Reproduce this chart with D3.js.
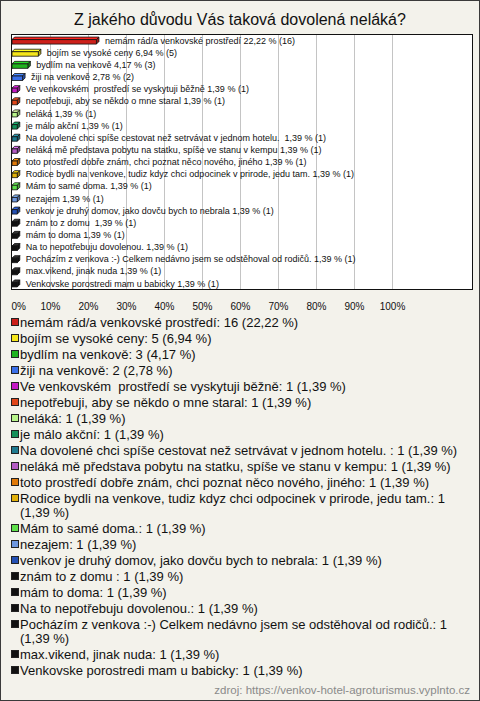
<!DOCTYPE html>
<html><head><meta charset="utf-8">
<script src="https://cdn.jsdelivr.net/npm/d3@7"></script>
<style>body{margin:0;padding:0;background:#fff;} text{font-family:"Liberation Sans",Arial,sans-serif;}</style>
</head><body>
<svg id="chart" width="480" height="701"></svg>
<script>
const title = "Z jakého důvodu Vás taková dovolená neláká?";
const categories = [
  "nemám rád/a venkovské prostředí",
  "bojím se vysoké ceny",
  "bydlím na venkově",
  "žiji na venkově",
  "Ve venkovském  prostředí se vyskytuji běžně",
  "nepotřebuji, aby se někdo o mne staral",
  "neláká",
  "je málo akční",
  "Na dovolené chci spíše cestovat než setrvávat v jednom hotelu. ",
  "neláká mě představa pobytu na statku, spíše ve stanu v kempu",
  "toto prostředí dobře znám, chci poznat něco nového, jiného",
  "Rodice bydli na venkove, tudiz kdyz chci odpocinek v prirode, jedu tam.",
  "Mám to samé doma.",
  "nezajem",
  "venkov je druhý domov, jako dovču bych to nebrala",
  "znám to z domu ",
  "mám to doma",
  "Na to nepotřebuju dovolenou.",
  "Pocházím z venkova :-) Celkem nedávno jsem se odstěhoval od rodičů.",
  "max.vikend, jinak nuda",
  "Venkovske porostredi mam u babicky"
];
const counts = [16,5,3,2,1,1,1,1,1,1,1,1,1,1,1,1,1,1,1,1,1];
const percents = [22.22,6.94,4.17,2.78,1.39,1.39,1.39,1.39,1.39,1.39,1.39,1.39,1.39,1.39,1.39,1.39,1.39,1.39,1.39,1.39,1.39];
const colors = ["#cc1f1a","#f5e61a","#1fb31f","#3a6fe8","#c41ac4","#e0461a","#b8f58a","#15905a",
  "#1f7a8f","#b45cc4","#e07a0a","#e0b00a","#5ee04a","#6e98e0","#2450b4",
  "#111111","#111111","#111111","#111111","#111111","#111111"];
const xTicks = [0,10,20,30,40,50,60,70,80,90,100];
const source = "zdroj: https://venkov-hotel-agroturismus.vyplnto.cz";

const fmt = v => v.toFixed(2).replace(".", ",");
const svg = d3.select("#chart");
const W = 480, H = 701;

svg.append("rect").attr("x",0.5).attr("y",0.5).attr("width",W-1).attr("height",H-1)
  .attr("fill","#f3f2eb").attr("stroke","#3a3a3a");

svg.append("text").attr("x",240).attr("y",25).attr("text-anchor","middle")
  .attr("font-size",16).attr("fill","#111").text(title);

const plot = {l:11.5, r:472.5, t:34.5, b:289.5};
svg.append("rect").attr("x",plot.l).attr("y",plot.t).attr("width",plot.r-plot.l).attr("height",plot.b-plot.t)
  .attr("fill","#fff");

const x = d3.scaleLinear().domain([0,100]).range([12, 392]);
const y = d3.scaleBand().domain(d3.range(categories.length)).range([plot.t, plot.b]);

// gridlines
svg.append("g").selectAll("line").data(xTicks.slice(1)).join("line")
  .attr("x1", d => Math.round(x(d))+0.5).attr("x2", d => Math.round(x(d))+0.5)
  .attr("y1", plot.t).attr("y2", plot.b).attr("stroke","#c4c4c4").attr("stroke-width",1);

svg.append("rect").attr("x",plot.l).attr("y",plot.t).attr("width",plot.r-plot.l).attr("height",plot.b-plot.t)
  .attr("fill","none").attr("stroke","#111");

// axis labels
const xAxisG = svg.append("g").attr("transform", `translate(0,${plot.b})`)
  .call(d3.axisBottom(x).tickValues(xTicks).tickFormat(d => d + "%").tickSize(0).tickPadding(13));
xAxisG.select(".domain").remove();
xAxisG.selectAll("text").attr("font-size",10).attr("fill","#111")
  .attr("font-family","Liberation Sans, Arial, sans-serif")
  .attr("text-anchor", d => d === 0 ? "start" : "middle")
  .attr("dx", d => d === 0 ? -1 : 0);

// 3D bars
const dep = 2.5, bh = 4.5;
const bars = svg.append("g");
categories.forEach((c,i) => {
  const x0 = x(0), x1 = x(percents[i]);
  const cy = y(i) + y.bandwidth()/2;
  const top = cy - (bh + dep)/2;
  const col = d3.color(colors[i]);
  const g = bars.append("g").attr("stroke","#111").attr("stroke-width",0.8).attr("stroke-linejoin","round");
  g.append("path").attr("d", `M${x0},${top+dep}L${x0+dep},${top}L${x1+dep},${top}L${x1},${top+dep}Z`)
    .attr("fill", i>=15 ? "#333" : col.brighter(0.6));
  g.append("path").attr("d", `M${x1},${top+dep}L${x1+dep},${top}L${x1+dep},${top+bh}L${x1},${top+dep+bh}Z`)
    .attr("fill", col.darker(0.8));
  g.append("rect").attr("x",x0).attr("y",top+dep).attr("width",x1-x0).attr("height",bh)
    .attr("fill", col);
  svg.append("text").attr("x", x1 + dep + 6).attr("y", cy + 3.2)
    .attr("font-size",9).attr("fill","#111").style("white-space","pre")
    .text(`${c} ${fmt(percents[i])} % (${counts[i]})`);
});

// legend
const legend = svg.append("g");
let cursor = 327;
const maxW = 449;
categories.forEach((c,i) => {
  const label = `${c}: ${counts[i]} (${fmt(percents[i])} %)`;
  legend.append("rect").attr("x",11.5).attr("y",cursor-8.5).attr("width",7).attr("height",7)
    .attr("fill",colors[i]).attr("stroke","#222").attr("stroke-width",1);
  const words = label.split(" ");
  let lines = [], cur = "";
  const probe = legend.append("text").attr("font-size",13).style("white-space","pre");
  words.forEach((w,k) => {
    const test = cur === "" && k === 0 ? w : cur + " " + w;
    probe.text(test);
    if (probe.node().getComputedTextLength() > maxW && cur !== "") { lines.push(cur); cur = w; }
    else cur = test;
  });
  lines.push(cur);
  probe.remove();
  lines.forEach((ln,k) => {
    legend.append("text").attr("x",20).attr("y",cursor + k*14).attr("font-size",13)
      .attr("fill","#111").style("white-space","pre").text(ln);
  });
  cursor += 16 + (lines.length-1)*14;
});

svg.append("text").attr("x",470).attr("y",694).attr("text-anchor","end")
  .attr("font-size",11.5).attr("fill","#8a8a8a").text(source);
</script>
</body></html>
